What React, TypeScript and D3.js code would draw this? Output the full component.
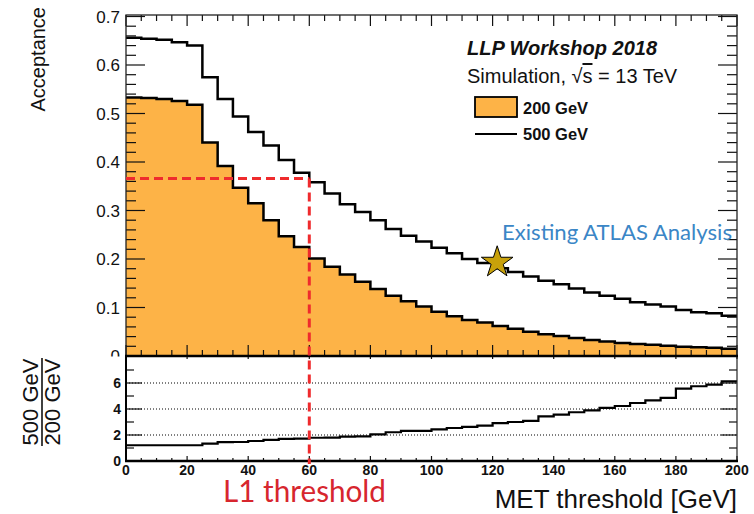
import * as d3 from 'd3'

// MET threshold bins (lower edges, 5 GeV wide)
const binEdges = d3.range(0, 200, 5)
const xMax = 200

const acc200 = [
  0.533, 0.532, 0.53, 0.526, 0.518, 0.44, 0.392, 0.347, 0.315, 0.28,
  0.247, 0.225, 0.201, 0.184, 0.168, 0.153, 0.138, 0.124, 0.113, 0.102,
  0.091, 0.082, 0.074, 0.069, 0.062, 0.056, 0.05, 0.045, 0.041, 0.037,
  0.033, 0.03, 0.027, 0.025, 0.023, 0.021, 0.019, 0.018, 0.017, 0.015,
]
const acc500 = [
  0.656, 0.654, 0.652, 0.647, 0.64, 0.575, 0.53, 0.494, 0.462, 0.434,
  0.404, 0.378, 0.358, 0.335, 0.313, 0.297, 0.28, 0.262, 0.248, 0.236,
  0.223, 0.212, 0.2, 0.192, 0.181, 0.173, 0.164, 0.155, 0.148, 0.139,
  0.131, 0.124, 0.118, 0.111, 0.106, 0.102, 0.095, 0.09, 0.088, 0.083,
]
const ratio = [
  1.21, 1.21, 1.21, 1.21, 1.21, 1.34, 1.45, 1.46, 1.54, 1.62,
  1.7, 1.72, 1.79, 1.8, 1.88, 1.9, 2.05, 2.21, 2.31, 2.31,
  2.44, 2.54, 2.62, 2.72, 2.92, 3.0, 3.08, 3.44, 3.57, 3.75,
  3.9, 4.08, 4.23, 4.46, 4.67, 4.85, 5.57, 5.75, 5.88, 6.13,
]

const accTicks = [0, 0.1, 0.2, 0.3, 0.4, 0.5, 0.6, 0.7]
const ratioTicks = [0, 2, 4, 6]
const metTicks = [0, 20, 40, 60, 80, 100, 120, 140, 160, 180, 200]

const l1Threshold = { met: 60, acc: 0.366 }
const atlasPoint = { met: 121.5, acc: 0.193 }

const ROOT_FONT = '"Liberation Sans", Arial, Helvetica, sans-serif'
const OFFICE_FONT = 'Lato, "Open Sans", sans-serif'
const ORANGE = '#fdb347'
const RED = '#ef2b2d'

const toSteps = (vals: number[]): [number, number][] => [
  ...vals.map((v, i) => [binEdges[i], v] as [number, number]),
  [xMax, vals[vals.length - 1]],
]

const App = () => {
  const width = 754
  const height = 514
  const left = 126
  const right = 737
  const topY = 15
  const midY = 356
  const bottomY = 461

  const x = d3.scaleLinear().domain([0, xMax]).range([left, right])
  const y = d3.scaleLinear().domain([0, 0.7]).range([midY, 16.5])
  const yr = d3.scaleLinear().domain([0, 8]).range([bottomY, bottomY - 104])

  const line = d3
    .line<[number, number]>()
    .x((d) => x(d[0]))
    .y((d) => y(d[1]))
    .curve(d3.curveStepAfter)
  const area = d3
    .area<[number, number]>()
    .x((d) => x(d[0]))
    .y0(y(0))
    .y1((d) => y(d[1]))
    .curve(d3.curveStepAfter)
  const ratioLine = d3
    .line<[number, number]>()
    .x((d) => x(d[0]))
    .y((d) => yr(d[1]))
    .curve(d3.curveStepAfter)

  const minorAcc = d3.range(0, 0.701, 0.02)
  const minorMet = d3.range(0, 201, 5)
  const minorRatio = [1, 3, 5, 7]

  const star = d3.symbol().type(d3.symbolStar).size(310)()

  return (
    <svg width={width} height={height} style={{ display: 'block', position: 'absolute', left: 0, top: 0 }}>
      <defs>
        <clipPath id="upperClip">
          <rect x={0} y={0} width={width} height={midY + 0.5} />
        </clipPath>
      </defs>
      <rect width={width} height={height} fill="#fff" />

      {/* upper panel: acceptance */}
      <path d={area(toSteps(acc200)) ?? ''} fill={ORANGE} />
      <path d={line(toSteps(acc200)) ?? ''} fill="none" stroke="#000" strokeWidth={2.5} />
      <path d={line(toSteps(acc500)) ?? ''} fill="none" stroke="#000" strokeWidth={2.5} />

      <g stroke="#111" strokeWidth={1.2}>
        {minorAcc.map((v) => {
          const major = Math.abs(v * 10 - Math.round(v * 10)) < 1e-6
          const len = major ? 19 : 10
          return (
            <g key={'ya' + v}>
              <line x1={left} x2={left + len} y1={y(v)} y2={y(v)} />
              <line x1={right} x2={right - len} y1={y(v)} y2={y(v)} />
            </g>
          )
        })}
        {minorMet.map((v) => {
          const major = v % 20 === 0
          const len = major ? 11 : 6
          return (
            <g key={'xa' + v}>
              <line x1={x(v)} x2={x(v)} y1={midY} y2={midY - len} />
              <line x1={x(v)} x2={x(v)} y1={topY} y2={topY + len} />
            </g>
          )
        })}
      </g>
      <rect x={left} y={topY} width={right - left} height={midY - topY} fill="none" stroke="#222" strokeWidth={1.3} />

      <g fontFamily={ROOT_FONT} fontSize={17} textAnchor="end" fill="#111" clipPath="url(#upperClip)">
        {accTicks.map((t) => (
          <text key={t} x={120} y={y(t) + 6}>
            {t === 0 ? '0' : t.toFixed(1)}
          </text>
        ))}
      </g>
      <text
        transform="translate(45,7) rotate(-90)"
        textAnchor="end"
        fontFamily={ROOT_FONT}
        fontSize={20}
        fill="#111"
      >
        Acceptance
      </text>

      {/* legend */}
      <g fontFamily={ROOT_FONT} fill="#111">
        <text x={467} y={55} fontSize={20} fontWeight="bold" fontStyle="italic">
          LLP Workshop 2018
        </text>
        <text x={467} y={83} fontSize={20}>
          Simulation, √<tspan style={{ textDecoration: 'overline' }}>s</tspan> = 13 TeV
        </text>
        <rect x={475} y={97} width={42} height={20} fill={ORANGE} stroke="#000" strokeWidth={1.8} />
        <text x={523} y={114} fontSize={16.5} fontWeight="bold">
          200 GeV
        </text>
        <line x1={475} x2={517} y1={134} y2={134} stroke="#000" strokeWidth={2} />
        <text x={523} y={140} fontSize={16.5} fontWeight="bold">
          500 GeV
        </text>
      </g>

      {/* existing analysis marker */}
      <path
        d={star ?? ''}
        transform={`translate(${x(atlasPoint.met)},${y(atlasPoint.acc)})`}
        fill="#c8a10a"
        stroke="#000"
        strokeWidth={1}
      />
      <text x={502} y={240} fontFamily={OFFICE_FONT} fontSize={22} fill="#3b86c6" textLength={230} lengthAdjust="spacingAndGlyphs">
        Existing ATLAS Analysis
      </text>

      {/* lower panel: ratio */}
      <g stroke="#000" strokeWidth={1} strokeDasharray="1,2">
        {[2, 4, 6].map((v) => (
          <line key={'g' + v} x1={left} x2={right} y1={yr(v)} y2={yr(v)} />
        ))}
      </g>
      <path d={ratioLine(toSteps(ratio)) ?? ''} fill="none" stroke="#000" strokeWidth={2.2} />
      <g stroke="#111" strokeWidth={1.2}>
        {ratioTicks.concat(minorRatio).map((v) => {
          const len = v % 2 === 0 ? 16 : 8
          return (
            <g key={'yr' + v}>
              <line x1={left} x2={left + len} y1={yr(v)} y2={yr(v)} />
              <line x1={right} x2={right - len} y1={yr(v)} y2={yr(v)} />
            </g>
          )
        })}
        {minorMet.map((v) => {
          const major = v % 20 === 0
          return (
            <g key={'xr' + v}>
              <line x1={x(v)} x2={x(v)} y1={bottomY} y2={bottomY - (major ? 5 : 3)} />
              {major && <line x1={x(v)} x2={x(v)} y1={midY} y2={midY + 3} />}
            </g>
          )
        })}
      </g>
      <line x1={left} x2={left} y1={midY} y2={bottomY} stroke="#000" strokeWidth={2} />
      <line x1={right} x2={right} y1={midY} y2={bottomY} stroke="#222" strokeWidth={1.2} />
      <line x1={left - 1} x2={right + 1} y1={bottomY} y2={bottomY} stroke="#000" strokeWidth={2.5} />
      <line x1={left - 1} x2={right + 1} y1={midY} y2={midY} stroke="#000" strokeWidth={2.5} />

      <g fontFamily={ROOT_FONT} fontSize={14} fontWeight="bold" fill="#111">
        {ratioTicks.map((t) => (
          <text key={t} x={121} y={yr(t) + 5} textAnchor="end">
            {t}
          </text>
        ))}
        {metTicks.map((t) => (
          <text key={t} x={x(t)} y={475} textAnchor="middle">
            {t}
          </text>
        ))}
      </g>

      <g fontFamily={ROOT_FONT} fontSize={22} fill="#111">
        <text transform="translate(38,402) rotate(-90)" textAnchor="middle">
          500 GeV
        </text>
        <line x1={42} x2={42} y1={358} y2={446} stroke="#111" strokeWidth={1.6} />
        <text transform="translate(60,402) rotate(-90)" textAnchor="middle">
          200 GeV
        </text>
      </g>

      <text x={right} y={508} textAnchor="end" fontFamily={ROOT_FONT} fontSize={26} fill="#111">
        MET threshold [GeV]
      </text>

      {/* L1 threshold guide */}
      <g stroke={RED} strokeWidth={3} strokeDasharray="9,5" fill="none">
        <line x1={x(0)} x2={x(l1Threshold.met)} y1={y(l1Threshold.acc)} y2={y(l1Threshold.acc)} />
        <line x1={x(l1Threshold.met)} x2={x(l1Threshold.met)} y1={y(l1Threshold.acc)} y2={464} />
      </g>
      <text x={223} y={502} fontFamily={OFFICE_FONT} fontSize={30} fill="#d7262e" textLength={163} lengthAdjust="spacingAndGlyphs">
        L1 threshold
      </text>
    </svg>
  )
}

export default App
